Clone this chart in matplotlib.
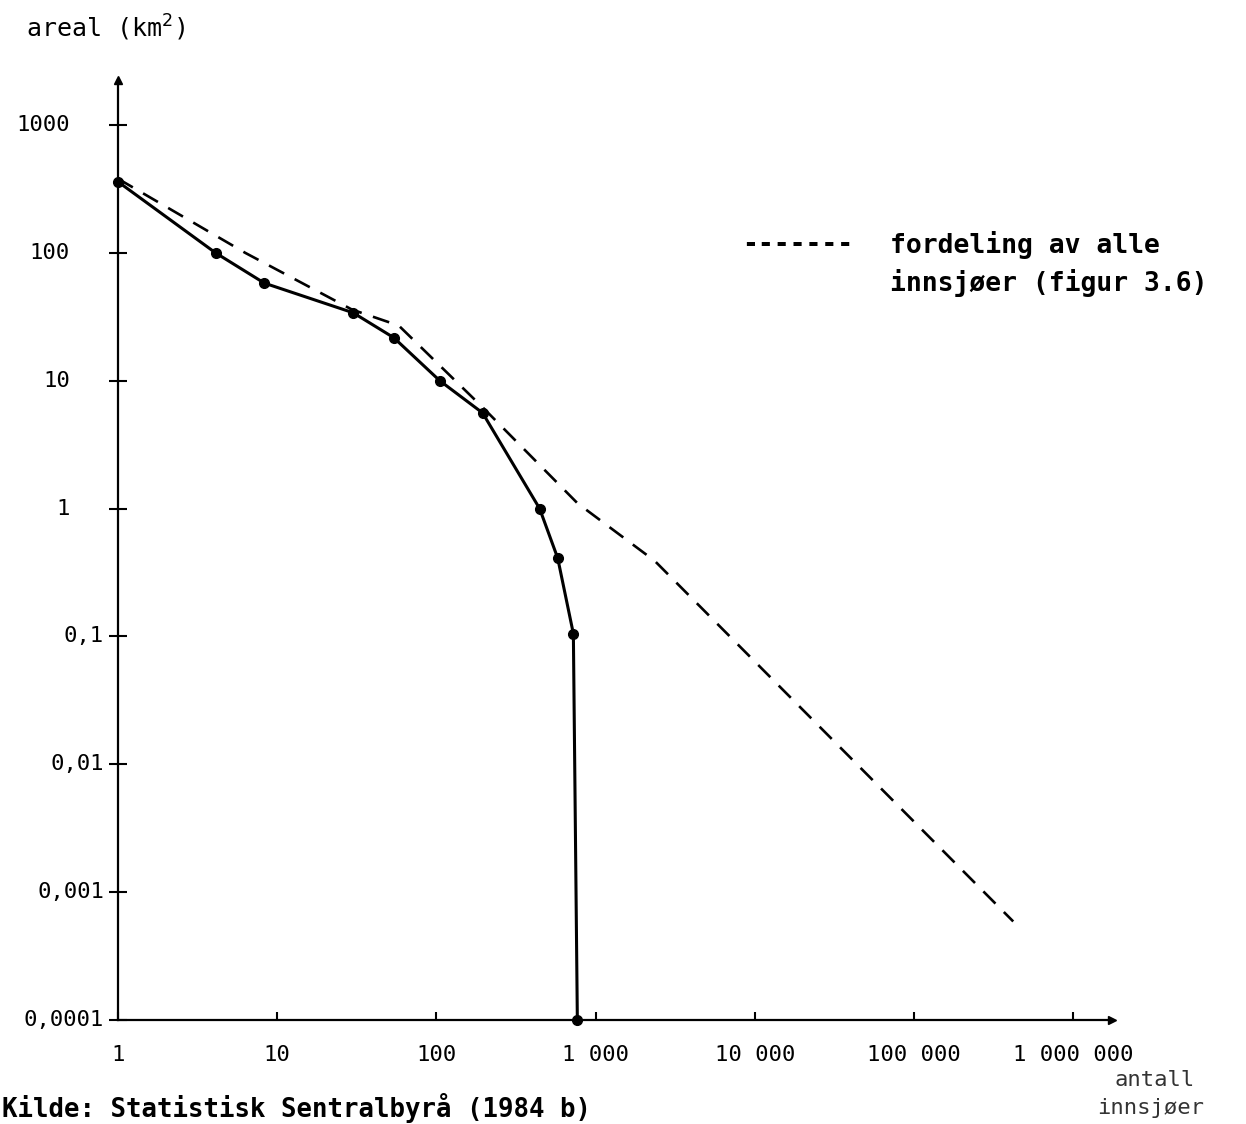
import numpy as np
import matplotlib
matplotlib.use("Agg")
import matplotlib.pyplot as plt
import matplotlib.transforms as mtransforms

plt.rcParams['font.family'] = ['DejaVu Sans Mono', 'DejaVu Sans']

# data (antall innsjøer vs areal km2)
solid_x = [1, 4.1, 8.3, 30, 54, 105, 195, 445, 578, 725, 768]
solid_y = [360, 100, 58, 34, 21.7, 10, 5.6, 1.0, 0.41, 0.105, 0.0001]

dash_x = [1, 6.3, 29.5, 58, 195, 770, 2350, 420000]
dash_y = [380, 100, 36, 27, 6.2, 1.1, 0.39, 0.00059]

x_ticks = [1, 10, 100, 1000, 10000, 100000, 1000000]
x_ticklabels = ["1", "10", "100", "1 000", "10 000", "100 000", "1 000 000"]
y_ticks = [1000, 100, 10, 1, 0.1, 0.01, 0.001, 0.0001]
y_ticklabels = ["1000", "100", "10", "1", "0,1", "0,01", "0,001", "0,0001"]

W, H = 1246, 1124
fig = plt.figure(figsize=(W / 100, H / 100), dpi=100)
ax = fig.add_axes([118 / W, 1 - 1020 / H, (1112 - 118) / W, (1020 - 80) / H])

ax.set_xscale("log")
ax.set_yscale("log")
ax.set_xlim(1, 10 ** ((1112 - 118) / 159.2))
ax.set_ylim(1e-4, 10 ** (3 + 45 / 127.86))

# curves
ax.plot(dash_x, dash_y, color="k", lw=1.9, dashes=(6.5, 4.5), clip_on=False)
ax.plot(solid_x, solid_y, color="k", lw=2.2, marker="o", ms=7, clip_on=False)

# axes with arrows
ax.spines[["top", "right"]].set_visible(False)
for s in ["left", "bottom"]:
    ax.spines[s].set_linewidth(1.6)
ax.plot(1, 0, ">k", ms=6, transform=ax.transAxes, clip_on=False)
ax.plot(0, 1, "^k", ms=6, transform=ax.transAxes, clip_on=False)

ax.xaxis.set_minor_locator(matplotlib.ticker.NullLocator())
ax.yaxis.set_minor_locator(matplotlib.ticker.NullLocator())
ax.set_xticks(x_ticks)
ax.set_xticklabels(x_ticklabels, fontsize=16)
ax.tick_params(axis="x", direction="in", length=6, width=1.5, pad=18)
# the last label sits a bit right of its tick in the original
ax.get_xticklabels()[-1].set_x(1.15e6)
ax.get_xticklabels()[-1].set_horizontalalignment("center")
ax.set_yticks(y_ticks)
ax.set_yticklabels([])
ax.tick_params(axis="y", direction="inout", length=13, width=1.5)

# y labels placed like the typed originals
trans = mtransforms.blended_transform_factory(fig.transFigure, ax.transData)
for v, lab in zip(y_ticks, y_ticklabels):
    xr = 70 if v >= 1 else 104
    fig.text(xr / W, v, lab, transform=trans, ha="right", va="center", fontsize=16)

fig.text(26 / W, 1 - 28 / H, "areal (km$^2$)", ha="left", va="center", fontsize=18)

fig.text(742 / W, 1 - 245 / H, "-------", ha="left", va="center",
         fontsize=19, fontweight="bold")
fig.text(890 / W, 1 - 245 / H, "fordeling av alle", ha="left", va="center",
         fontsize=19, fontweight="bold")
fig.text(890 / W, 1 - 283 / H, "innsjøer (figur 3.6)", ha="left", va="center",
         fontsize=19, fontweight="bold")

fig.text(2 / W, 1 - 1108 / H, "Kilde: Statistisk Sentralbyrå (1984 b)",
         ha="left", va="center", fontsize=18.5, fontweight="bold")
fig.text(1115 / W, 1 - 1080 / H, "antall", ha="left", va="center",
         fontsize=16, color="#333333")
fig.text(1097 / W, 1 - 1108 / H, "innsjøer", ha="left", va="center",
         fontsize=16, color="#333333")

fig.savefig("out.png", dpi=100)
